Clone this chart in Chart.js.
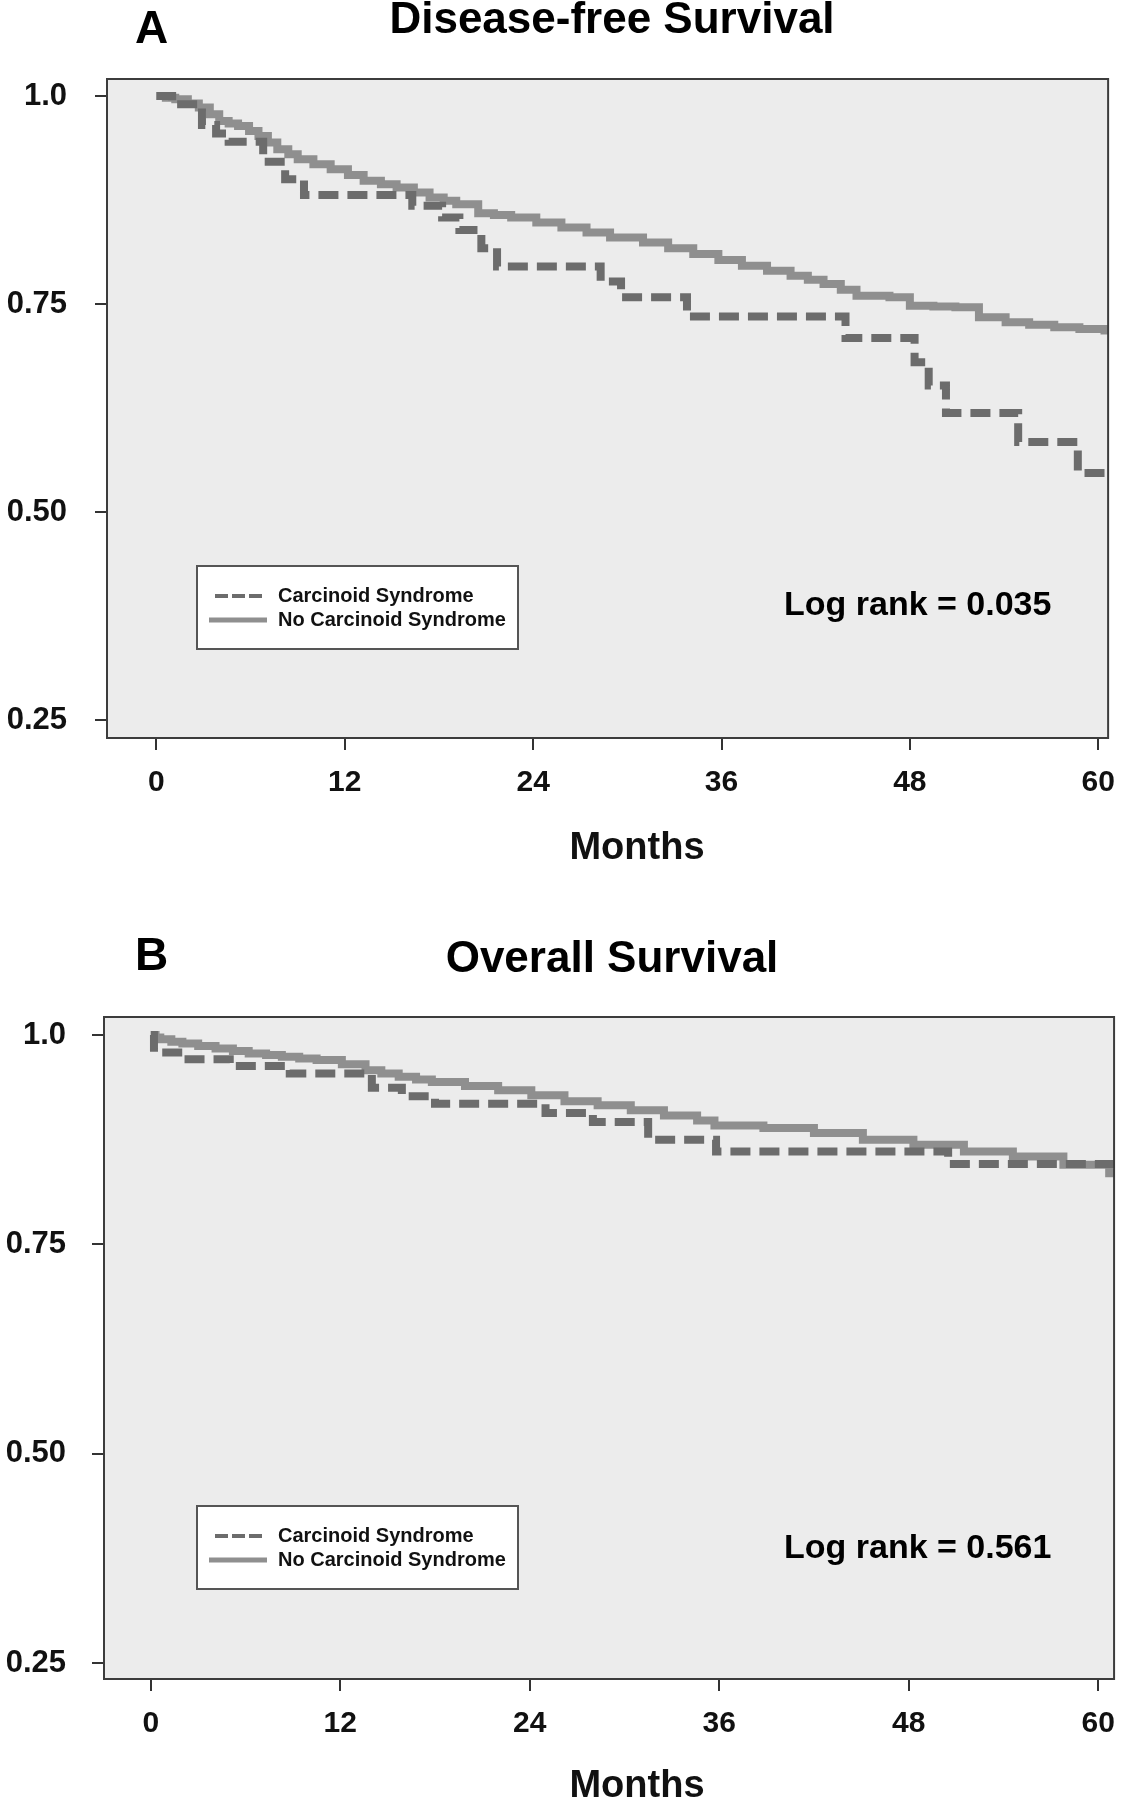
<!DOCTYPE html>
<html>
<head>
<meta charset="utf-8">
<script src="https://cdn.jsdelivr.net/npm/chart.js@4.4.1/dist/chart.umd.min.js"></script>
<style>
  body { margin: 0; background: #fff; }
  .panel { position: absolute; left: 0; width: 1130px; }
  #panelA { top: 0; height: 880px; }
  #panelB { top: 880px; height: 920px; }
</style>
</head>
<body>
<div class="panel" id="panelA"><canvas id="chartA" width="1130" height="880"></canvas></div>
<div class="panel" id="panelB"><canvas id="chartB" width="1130" height="920"></canvas></div>
<script>
// ---- data ----
const monthTicks = [0, 12, 24, 36, 48, 60];
const survivalTicks = [0.25, 0.5, 0.75, 1.0];
const survivalTickLabels = ["0.25", "0.50", "0.75", "1.0"];
const seriesNames = ["Carcinoid Syndrome", "No Carcinoid Syndrome"];
const panelLetters = ["A", "B"];
const panelTitles = ["Disease-free Survival", "Overall Survival"];
const xAxisTitle = "Months";
const logRankValues = ["0.035", "0.561"];

// A: disease-free survival
const dfsCsMonths = [0, 1.0, 2.9, 3.8, 4.6, 6.8, 8.2, 9.4, 16.3, 18.2, 19.3, 20.7, 21.7, 28.3, 29.6, 33.8, 43.9, 48.3, 49.2, 50.3, 54.9, 58.7, 61.5];
const dfsCsSurv   = [1.0, 0.99, 0.965, 0.955, 0.945, 0.921, 0.90, 0.881, 0.868, 0.854, 0.839, 0.817, 0.795, 0.777, 0.758, 0.735, 0.709, 0.68, 0.652, 0.619, 0.584, 0.547, 0.547];
const dfsNoMonths = [0, 0.6, 1.2, 2.0, 2.7, 3.4, 4.0, 4.6, 5.2, 5.9, 6.5, 7.1, 7.7, 8.4, 9.0, 10.0, 11.1, 12.2, 13.2, 14.3, 15.3, 16.4, 17.4, 18.3, 19.1, 20.5, 21.5, 22.6, 24.2, 25.8, 27.4, 28.9, 31.0, 32.6, 34.2, 35.8, 37.3, 38.9, 40.4, 41.5, 42.5, 43.6, 44.6, 46.7, 48.0, 49.5, 50.9, 52.4, 54.1, 55.6, 57.2, 58.8, 60.4, 61.5];
const dfsNoSurv   = [1.0, 0.998, 0.996, 0.991, 0.986, 0.978, 0.970, 0.967, 0.964, 0.958, 0.952, 0.944, 0.936, 0.930, 0.924, 0.918, 0.912, 0.905, 0.898, 0.894, 0.890, 0.884, 0.878, 0.874, 0.870, 0.859, 0.857, 0.854, 0.848, 0.842, 0.836, 0.830, 0.824, 0.817, 0.810, 0.803, 0.796, 0.790, 0.784, 0.779, 0.774, 0.767, 0.760, 0.758, 0.748, 0.747, 0.746, 0.734, 0.728, 0.725, 0.722, 0.720, 0.718, 0.718];

// B: overall survival
const osCsMonths = [0, 0.2, 2.1, 5.0, 8.8, 14.0, 15.9, 18.0, 25.0, 28.0, 31.5, 35.8, 50.5, 61.5];
const osCsSurv   = [1.0, 0.979, 0.971, 0.963, 0.954, 0.937, 0.927, 0.918, 0.907, 0.896, 0.875, 0.861, 0.846, 0.846];
const osNoMonths = [0, 0.3, 0.6, 1.3, 2.0, 3.0, 4.1, 5.2, 6.2, 7.3, 8.3, 9.4, 10.5, 12.1, 13.6, 14.6, 15.7, 16.8, 17.8, 19.9, 22.0, 24.1, 26.2, 28.3, 30.4, 32.5, 34.6, 35.7, 38.8, 42.0, 45.1, 48.3, 51.5, 54.6, 57.8, 60.7, 61.5];
const osNoSurv   = [1.0, 0.997, 0.995, 0.992, 0.990, 0.987, 0.984, 0.981, 0.978, 0.976, 0.974, 0.972, 0.970, 0.965, 0.958, 0.954, 0.950, 0.947, 0.944, 0.939, 0.934, 0.928, 0.921, 0.916, 0.910, 0.904, 0.898, 0.892, 0.889, 0.883, 0.875, 0.869, 0.861, 0.855, 0.845, 0.835, 0.835];

const FONT = '"Liberation Sans", Arial, sans-serif';
const dashedColor = "#6c6c6c";
const solidColor = "#8f8f8f";

function kmPoints(months, surv) {
    return months.map((m, i) => ({ x: m, y: surv[i] }));
}

// background, frame, legend box and the panel texts
const kmDecor = {
    id: "kmDecor",
    beforeDraw(chart) {
        const { ctx, chartArea: a } = chart;
        ctx.save();
        ctx.fillStyle = "#ececec";
        ctx.fillRect(a.left, a.top, a.right - a.left, a.bottom - a.top);
        ctx.restore();
    },
    afterDatasetsDraw(chart, args, opts) {
        const { ctx, chartArea: a } = chart;
        ctx.save();
        ctx.strokeStyle = "#3c3c3c";
        ctx.lineWidth = 2;
        ctx.strokeRect(a.left, a.top, a.right - a.left, a.bottom - a.top);

        const lg = opts.legend;
        ctx.fillStyle = "#fff";
        ctx.fillRect(lg.x, lg.y, lg.w, lg.h);
        ctx.strokeStyle = "#555";
        ctx.strokeRect(lg.x, lg.y, lg.w, lg.h);
        ctx.font = "bold 20px " + FONT;
        ctx.textBaseline = "middle";
        chart.data.datasets.forEach((ds, i) => {
            const y = lg.y + lg.rows[i];
            const dashed = !!ds.borderDash;
            ctx.setLineDash(dashed ? [13, 4] : []);
            ctx.strokeStyle = ds.borderColor;
            ctx.lineWidth = dashed ? 4 : 5;
            ctx.beginPath();
            ctx.moveTo(lg.x + (dashed ? 18 : 12), y);
            ctx.lineTo(lg.x + (dashed ? 66 : 70), y);
            ctx.stroke();
            ctx.fillStyle = "#111";
            ctx.fillText(ds.label, lg.x + 81, y);
        });
        ctx.restore();
    },
    afterDraw(chart, args, opts) {
        const { ctx } = chart;
        ctx.save();
        ctx.fillStyle = "#000";
        ctx.textBaseline = "alphabetic";
        ctx.textAlign = "left";
        ctx.font = "bold 46px " + FONT;
        ctx.fillText(opts.letter.text, opts.letter.x, opts.letter.y);
        ctx.textAlign = "center";
        ctx.font = "bold 44px " + FONT;
        ctx.fillText(opts.title.text, opts.title.x, opts.title.y);
        ctx.font = "bold 38px " + FONT;
        ctx.fillStyle = "#111";
        ctx.fillText(xAxisTitle, opts.months.x, opts.months.y);
        ctx.textAlign = "left";
        ctx.fillStyle = "#000";
        ctx.font = "bold 34px " + FONT;
        ctx.fillText("Log rank = " + opts.logRank.text, opts.logRank.x, opts.logRank.y);
        ctx.restore();
    }
};

function makeChart(id, p) {
    return new Chart(document.getElementById(id), {
        type: "line",
        data: {
            datasets: [
                {
                    label: seriesNames[0],
                    data: kmPoints(p.csMonths, p.csSurv),
                    borderColor: dashedColor,
                    borderWidth: 8,
                    borderDash: [20, 9],
                    stepped: true,
                    pointRadius: 0,
                    fill: false,
                    clip: 0
                },
                {
                    label: seriesNames[1],
                    data: kmPoints(p.noMonths, p.noSurv),
                    borderColor: solidColor,
                    borderWidth: 8,
                    stepped: true,
                    pointRadius: 0,
                    fill: false,
                    clip: 0
                }
            ]
        },
        options: {
            responsive: false,
            animation: false,
            layout: { padding: { top: p.areaTop, right: p.areaRight, left: 0, bottom: 0 } },
            scales: {
                x: {
                    type: "linear",
                    min: p.xMin,
                    max: p.xMax,
                    afterBuildTicks: s => { s.ticks = monthTicks.map(v => ({ value: v })); },
                    afterFit: s => { s.height = p.xAxisHeight; },
                    grid: { drawOnChartArea: false, tickLength: 12, lineWidth: 2, color: "#333" },
                    border: { display: false },
                    ticks: {
                        font: { family: FONT, size: 30, weight: "bold" },
                        color: "#111",
                        padding: 15,
                        maxRotation: 0,
                        autoSkip: false
                    }
                },
                y: {
                    min: p.yMin,
                    max: p.yMax,
                    afterBuildTicks: s => { s.ticks = survivalTicks.map(v => ({ value: v })); },
                    afterFit: s => { s.width = p.yAxisWidth; },
                    grid: { drawOnChartArea: false, tickLength: 12, lineWidth: 2, color: "#333" },
                    border: { display: false },
                    ticks: {
                        font: { family: FONT, size: 31, weight: "bold" },
                        color: "#111",
                        padding: p.yLabelPad,
                        callback: v => survivalTickLabels[survivalTicks.indexOf(v)]
                    }
                }
            },
            plugins: {
                legend: { display: false },
                tooltip: { enabled: false },
                kmDecor: {
                    letter: { text: p.letter, x: 135, y: p.letterY },
                    title: { text: p.title, x: 612, y: p.titleY },
                    months: { x: 637, y: p.monthsY },
                    logRank: { text: p.logRank, x: 784, y: p.logRankY },
                    legend: { x: 197, y: p.legendY, w: 321, h: 83, rows: [30, 54] }
                }
            }
        },
        plugins: [kmDecor]
    });
}

makeChart("chartA", {
    csMonths: dfsCsMonths, csSurv: dfsCsSurv, noMonths: dfsNoMonths, noSurv: dfsNoSurv,
    letter: panelLetters[0], title: panelTitles[0], logRank: logRankValues[0],
    areaTop: 79, areaRight: 9, xAxisHeight: 142, yAxisWidth: 107,
    xMin: -3.15, xMax: 60.63, yMin: 0.2284, yMax: 1.0204,
    yLabelPad: 28,
    letterY: 43, titleY: 33, monthsY: 859, logRankY: 615, legendY: 566
});

makeChart("chartB", {
    csMonths: osCsMonths, csSurv: osCsSurv, noMonths: osNoMonths, noSurv: osNoSurv,
    letter: panelLetters[1], title: panelTitles[1], logRank: logRankValues[1],
    areaTop: 137, areaRight: 12, xAxisHeight: 121, yAxisWidth: 104,
    xMin: -2.965, xMax: 61.01, yMin: 0.2309, yMax: 1.0215,
    yLabelPad: 26,
    letterY: 90, titleY: 92, monthsY: 917, logRankY: 678, legendY: 626
});
</script>
</body>
</html>
